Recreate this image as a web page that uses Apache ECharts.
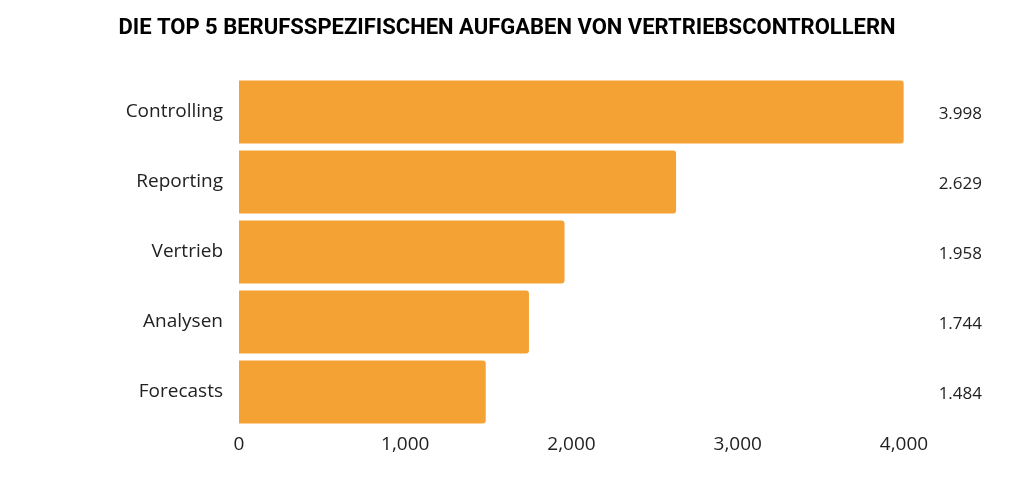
<!DOCTYPE html>
<html>
<head>
<meta charset="utf-8">
<script src="https://cdn.jsdelivr.net/npm/echarts@6/dist/echarts.min.js"></script>
<style>html,body{margin:0;padding:0;background:#fff}#chart{width:1014px;height:489px}</style>
</head>
<body>
<div id="chart"></div>
<script>
const categories = ['Controlling', 'Reporting', 'Vertrieb', 'Analysen', 'Forecasts'];
const values = [3998, 2629, 1958, 1744, 1484];
const valueLabels = ['3.998', '2.629', '1.958', '1.744', '1.484'];
const xTicks = [0, 1000, 2000, 3000, 4000];

const chart = echarts.init(document.getElementById('chart'));
chart.setOption({
    title: {
        text: 'DIE TOP 5 BERUFSSPEZIFISCHEN AUFGABEN VON VERTRIEBSCONTROLLERN',
        left: 'center',
        top: 12,
        textStyle: { fontFamily: 'Roboto', fontWeight: 'bold', fontSize: 22, color: '#000' },
    },
    grid: { left: 239, right: 110, top: 77, bottom: 62 },
    xAxis: {
        type: 'value',
        min: xTicks[0],
        max: xTicks[xTicks.length - 1],
        interval: 1000,
        axisLine: { show: false },
        axisTick: { show: false },
        splitLine: { show: false },
        axisLabel: { color: '#222', fontSize: 19, fontFamily: 'Open Sans', margin: 8 },
    },
    yAxis: [{
        type: 'category',
        inverse: true,
        data: categories,
        axisLine: { show: false },
        axisTick: { show: false },
        axisLabel: { color: '#222', fontSize: 19, fontFamily: 'Open Sans', margin: 16 },
    }, {
        type: 'category',
        inverse: true,
        position: 'right',
        data: valueLabels,
        axisLine: { show: false },
        axisTick: { show: false },
        axisLabel: { color: '#222', fontSize: 17, fontFamily: 'Open Sans', align: 'right', margin: 78, verticalAlign: 'top', padding: [-6, 0, 0, 0] },
    }],
    series: [{
        type: 'bar',
        data: values,
        barWidth: '90%',
        itemStyle: { color: '#F4A233', borderRadius: [0, 3, 3, 0] },
    }],
});
</script>
</body>
</html>
